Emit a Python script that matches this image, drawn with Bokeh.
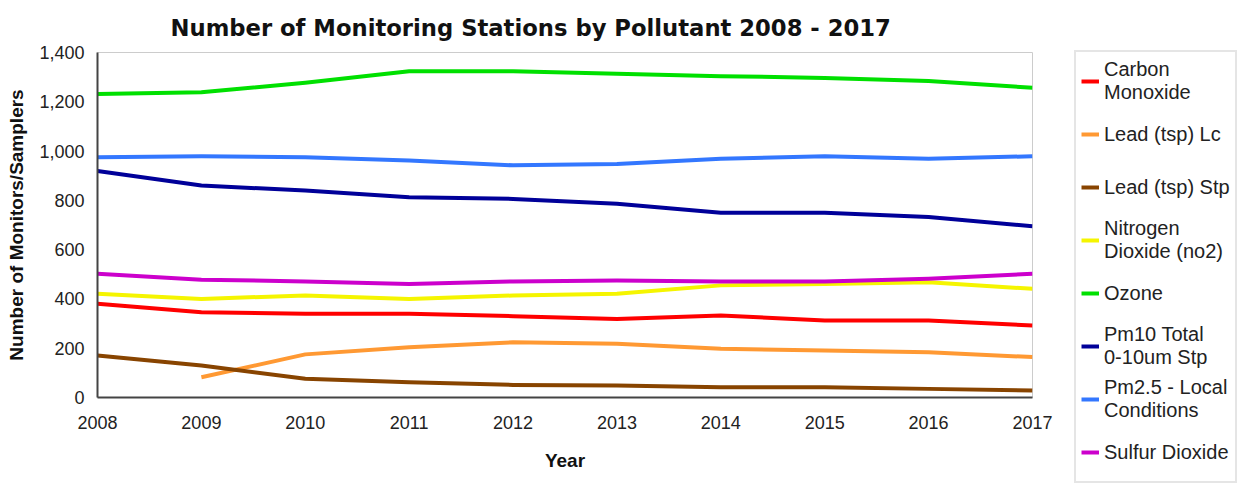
import math
from bokeh.plotting import figure
from bokeh.models import Legend, LegendItem, NumeralTickFormatter, FixedTicker, Range1d
from bokeh.embed import file_html
from bokeh.resources import INLINE

nan = float("nan")

years = [2008, 2009, 2010, 2011, 2012, 2013, 2014, 2015, 2016, 2017]
carbon_monoxide = [380, 346, 340, 340, 330, 319, 333, 312, 312, 292]
lead_tsp_lc = [nan, 82, 175, 204, 224, 218, 198, 191, 184, 164]
lead_tsp_stp = [170, 130, 76, 62, 51, 49, 42, 42, 35, 28]
nitrogen_dioxide = [421, 400, 414, 400, 414, 421, 455, 461, 468, 441]
ozone = [1232, 1239, 1277, 1324, 1324, 1314, 1304, 1297, 1284, 1257]
pm10 = [919, 860, 840, 813, 806, 786, 750, 750, 732, 695]
pm25 = [975, 979, 975, 962, 942, 948, 969, 979, 969, 979]
sulfur_dioxide = [502, 478, 471, 461, 471, 475, 471, 471, 482, 502]

series_names = ["Carbon\nMonoxide", "Lead (tsp) Lc", "Lead (tsp) Stp",
                "Nitrogen\nDioxide (no2)", "Ozone", "Pm10 Total\n0-10um Stp",
                "Pm2.5 - Local\nConditions", "Sulfur Dioxide"]
series_values = [carbon_monoxide, lead_tsp_lc, lead_tsp_stp, nitrogen_dioxide,
                 ozone, pm10, pm25, sulfur_dioxide]
series_colors = ["#ff0000", "#ff9933", "#884400", "#f5f500",
                 "#00e000", "#000099", "#3377ff", "#cc00cc"]
y_ticks = [0, 200, 400, 600, 800, 1000, 1200, 1400]

FONT = "Liberation Sans"

p = figure(frame_width=935, frame_height=345, output_backend="svg",
           toolbar_location=None,
           min_border_left=97, min_border_right=0, min_border_top=52,
           min_border_bottom=78,
           x_range=Range1d(2008, 2017), y_range=Range1d(0, 1400))

p.title.text = "Number of Monitoring Stations by Pollutant 2008 - 2017"
p.title.text_font = "DejaVu Sans"
p.title.text_font_size = "22.7px"
p.title.text_font_style = "bold"
p.title.text_color = "#111111"
p.title.align = "left"
p.title.offset = 73
p.title.standoff = 24

items = []
for name, vals, col in zip(series_names, series_values, series_colors):
    r = p.line(years, vals, line_color=col, line_width=4, line_join="round")
    items.append(LegendItem(label=name, renderers=[r]))

p.xgrid.visible = False
p.ygrid.visible = False
p.outline_line_color = "#cccccc"
p.outline_line_width = 1

for ax in (p.xaxis[0], p.yaxis[0]):
    ax.axis_line_color = "#444444"
    ax.axis_line_width = 2
    ax.major_tick_line_color = None
    ax.minor_tick_line_color = None
    ax.major_label_text_font = FONT
    ax.major_label_text_font_size = "18px"
    ax.major_label_text_color = "#222222"
    ax.axis_label_text_font = FONT
    ax.axis_label_text_font_size = "19px"
    ax.axis_label_text_font_style = "bold"
    ax.axis_label_text_color = "#111111"

p.xaxis.ticker = FixedTicker(ticks=years)
p.xaxis.axis_label = "Year"
p.xaxis.major_label_standoff = 12
p.xaxis.axis_label_standoff = 18

p.yaxis.ticker = FixedTicker(ticks=y_ticks)
p.yaxis.formatter = NumeralTickFormatter(format="0,0")
p.yaxis.axis_label = "Number of Monitors/Samplers"
p.yaxis.major_label_standoff = 7
p.yaxis.axis_label_standoff = 9

legend = Legend(items=items, location=(42, -86), orientation="vertical",
                label_text_font=FONT, label_text_font_size="20px",
                label_text_color="#222222", glyph_width=18, glyph_height=48,
                label_height=48, label_standoff=5, spacing=5, padding=5,
                margin=0, border_line_color="#cccccc", border_line_width=2,
                background_fill_color="white")
p.add_layout(legend, "right")

open("out.html", "w").write(file_html(p, INLINE))
